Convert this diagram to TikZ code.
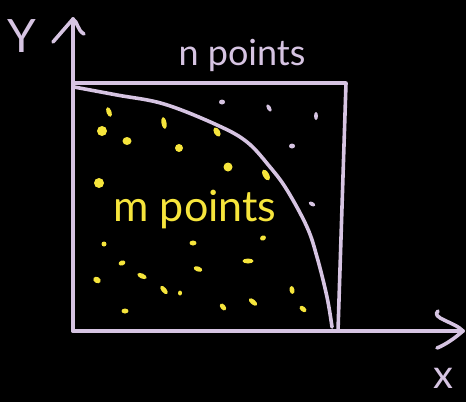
\documentclass[tikz,border=0pt]{standalone}
\usepackage{fontspec}
\setmainfont{Lato}
\definecolor{lav}{HTML}{D6C4E2}
\definecolor{dotyellow}{HTML}{F6E53C}
\begin{document}
\begin{tikzpicture}[x=1pt,y=-1pt,
  pen/.style={draw=lav,line width=3.6pt,line cap=round,line join=round},
  ydot/.style={fill=dotyellow},
  wdot/.style={fill=lav},
  lbl/.style={text=lav,inner sep=0pt},
  ylbl/.style={text=dotyellow,inner sep=0pt}]
\fill[black] (0,0) rectangle (466,402);
\useasboundingbox (0,0) rectangle (466,402);
% axes
\coordinate (O) at (73,331);
\coordinate (ytip) at (73,19);
\coordinate (xtip) at (463,331);
\draw[pen] (O) -- (ytip);
\draw[pen] (O) -- (xtip);
\draw[pen] (53,42) -- (ytip) .. controls (78,22) and (77,30) .. (84,34);
\draw[pen] (438,311) .. controls (430,318) and (455,322) .. (xtip) .. controls (455,338) and (445,345) .. (437,348);
% square
\draw[pen] (73,83) -- (346,83) -- (338,331);
% quarter circle
\draw[pen] plot[smooth,tension=0.6] coordinates {(74,87) (117,95) (164,104) (217,125) (247,142) (270,167) (287,190) (307,227) (317,257) (327,297) (332,327)};
% labels
\node[lbl,font=\fontsize{46}{46}\selectfont] (Y) at (22,36) {Y};
\node[lbl,font=\fontsize{40}{40}\selectfont] (X) at (443,378) {x};
\node[lbl,font=\fontsize{36}{36}\selectfont,anchor=base] (n) at (242,65) {n points};
\node[ylbl,font=\fontsize{43}{43}\selectfont,anchor=base] (m) at (195,221) {m points};
% yellow dots (inside)
\foreach \x/\y/\a/\b/\r in {109/112/2.5/5/20, 102/131/5/5/0, 127/141/4.5/4/0, 164/123/2.5/6/10, 179/148/4/4/0, 217/132/3/5/30, 228/167/4.5/4.5/0, 266/175/3/6/30, 99/183/5/5/0, 104/244/2.5/2.5/0, 122/263/3.5/2.5/20, 142/276/5/2.5/-25, 97/280/4/3/-30, 164/290/2.5/5/40, 180/293/2/2.5/0, 125/311/3.5/2.5/0, 193/243/3.5/2.5/0, 198/269/4.5/2.5/-20, 248/261/5.5/2.5/0, 263/238/3/2.5/20, 223/307/2.5/4/40, 253/302/2.5/5/50, 292/290/2.5/4/10, 303/309/2.5/4/50}
  \fill[ydot,rotate around={\r:(\x,\y)}] (\x,\y) ellipse[x radius=\a,y radius=\b];
% lavender dots (outside)
\foreach \x/\y/\a/\b/\r in {222/102/3/2.5/0, 269/108/2/4/30, 316/116/2/4/0, 292/146/3/2.5/0, 312/204/3.5/2/-30}
  \fill[wdot,rotate around={\r:(\x,\y)}] (\x,\y) ellipse[x radius=\a,y radius=\b];
\end{tikzpicture}
\end{document}
